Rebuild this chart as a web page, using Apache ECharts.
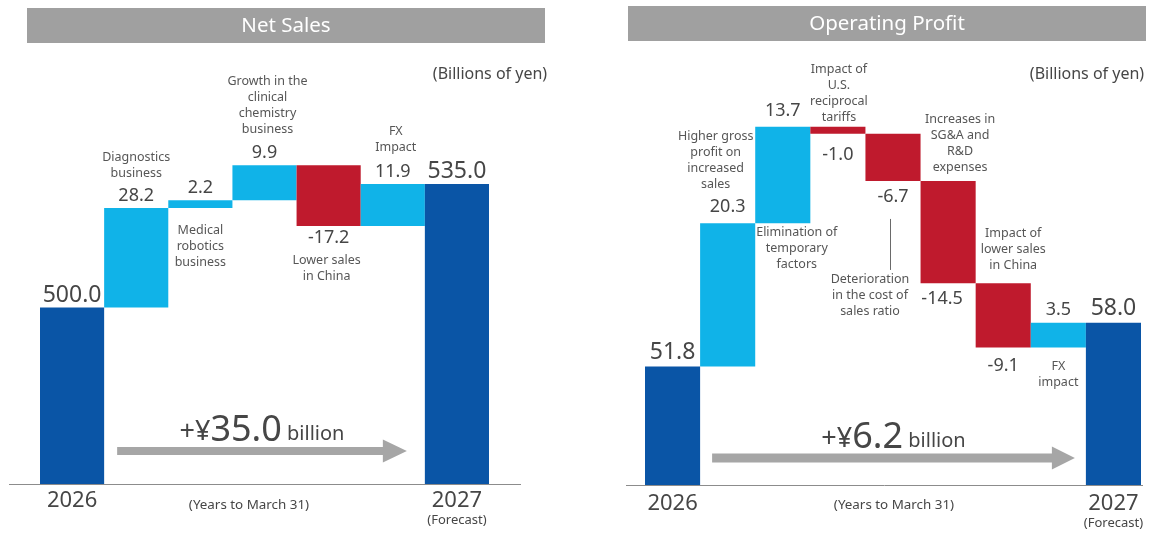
<!DOCTYPE html>
<html>
<head>
<meta charset="utf-8">
<title>Net Sales / Operating Profit bridge</title>
<script src="https://cdn.jsdelivr.net/npm/echarts@6/dist/echarts.min.js"></script>
<style>
  html, body { margin: 0; padding: 0; background: #ffffff; }
  #chart { width: 1150px; height: 535px; }
</style>
</head>
<body>
<div id="chart"></div>
<script>
// Net sales bridge, billions of yen
const salesYears = ['2026', '2027'];
const salesStart = 500.0;
const salesEnd = 535.0;
const salesFactors = [
  'Diagnostics\nbusiness',
  'Medical\nrobotics\nbusiness',
  'Growth in the\nclinical\nchemistry\nbusiness',
  'Lower sales\nin China',
  'FX\nImpact'
];
const salesDeltas = [28.2, 2.2, 9.9, -17.2, 11.9];

// Operating profit bridge, billions of yen
const profitYears = ['2026', '2027'];
const profitStart = 51.8;
const profitEnd = 58.0;
const profitFactors = [
  'Higher gross\nprofit on\nincreased\nsales',
  'Elimination of\ntemporary\nfactors',
  'Impact of\nU.S.\nreciprocal\ntariffs',
  'Deterioration\nin the cost of\nsales ratio',
  'Increases in\nSG&A and\nR&D\nexpenses',
  'Impact of\nlower sales\nin China',
  'FX\nimpact'
];
const profitDeltas = [20.3, 13.7, -1.0, -6.7, -14.5, -9.1, 3.5];

const FONT = '"Noto Sans", sans-serif';
const DARK = '#0a55a6';
const LIGHT = '#10b3e8';
const RED = '#bf1a2d';
const TEXT = '#464646';
const NOTE = '#565656';
const HEADER = '#a0a0a0';
const ARROW = '#a6a6a6';

// Layout of each panel (pixels); notes are anchored to the top or bottom edge of their bar
const panels = [
  {
    title: 'Net Sales', years: salesYears, start: salesStart, end: salesEnd,
    factors: salesFactors, deltas: salesDeltas,
    yMin: 450, yMax: 550,
    grid: { left: 40, top: 131, width: 449, height: 353 },
    header: { x: 27, y: 8, w: 518, h: 35 },
    units: { x: 490, y: 74 },
    yearsNote: { x: 249, y: 505 },
    overhang: [31, 32],
    valueSize: [18, 23], valueGap: [3, 1],
    gapFor: {}, offsetFor: {},
    yearMargin: 5,
    arrow: { startGap: 13, endGap: 18, rise: 33, shaft: 8, head: 23, headLen: 24 },
    changeRise: 56,
    notes: [
      { edge: 'top', dx: 0, dy: -27 },
      { edge: 'bottom', dx: 0, dy: 14 },
      { edge: 'top', dx: 3, dy: -28 },
      { edge: 'bottom', dx: -2, dy: 26 },
      { edge: 'top', dx: 3, dy: -29 }
    ]
  },
  {
    title: 'Operating Profit', years: profitYears, start: profitStart, end: profitEnd,
    factors: profitFactors, deltas: profitDeltas,
    yMin: 35, yMax: 90,
    grid: { left: 645, top: 97, width: 496, height: 388 },
    header: { x: 628, y: 6, w: 518, h: 35 },
    units: { x: 1087, y: 74 },
    yearsNote: { x: 894, y: 505 },
    overhang: [19, 2],
    valueSize: [18, 23], valueGap: [7, 3],
    gapFor: { 3: 12, 5: 7, 6: 9, 7: 4 }, offsetFor: { 5: [-6, 0] },
    yearMargin: 7,
    arrow: { startGap: 12, endGap: 11, rise: 27, shaft: 9, head: 23, headLen: 23 },
    changeRise: 50,
    notes: [
      { edge: 'top', dx: -12, dy: -31 },
      { edge: 'bottom', dx: 14, dy: 1 },
      { edge: 'top', dx: 1, dy: -1 },
      { edge: 'bottom', dx: -23, dy: 90, leader: [38, 89, -3] },
      { edge: 'top', dx: 12, dy: -6 },
      { edge: 'top', dx: 10, dy: -10 },
      { edge: 'bottom', dx: 0, dy: 11 }
    ]
  }
];

const fmt = v => v.toFixed(1);

// Lower edge, height, colour and label of every bar in a bridge
function buildBridge(p) {
  const n = p.deltas.length + 2;
  const lows = [], spans = [], colors = [], texts = [], ups = [], tops = [], bottoms = [];
  lows.push(p.yMin); spans.push(p.start - p.yMin); colors.push(DARK); texts.push(fmt(p.start)); ups.push(true);
  tops.push(p.start); bottoms.push(p.yMin);
  let level = p.start;
  p.deltas.forEach(d => {
    const next = level + d;
    const lo = Math.min(level, next), hi = Math.max(level, next);
    lows.push(lo); spans.push(hi - lo);
    colors.push(d >= 0 ? LIGHT : RED);
    texts.push(fmt(d)); ups.push(d >= 0);
    tops.push(hi); bottoms.push(lo);
    level = next;
  });
  lows.push(p.yMin); spans.push(p.end - p.yMin); colors.push(DARK); texts.push(fmt(p.end)); ups.push(true);
  tops.push(p.end); bottoms.push(p.yMin);
  return { n, lows, spans, colors, texts, ups, tops, bottoms };
}

const bridges = panels.map(buildBridge);

const grids = [], xAxes = [], yAxes = [], series = [];
panels.forEach((p, k) => {
  const b = bridges[k];
  grids.push(Object.assign({}, p.grid));
  const cats = [p.years[0]].concat(p.factors.map(f => f.replace(/\n/g, ' ')), [p.years[1]]);
  xAxes.push({
    type: 'category', gridIndex: k, data: cats,
    axisLine: { show: false }, axisTick: { show: false },
    axisLabel: {
      interval: 0, margin: p.yearMargin,
      formatter: (v, i) => i === 0 ? '{y|' + v + '}' : (i === cats.length - 1 ? '{y|' + v + '}\n{f|(Forecast)}' : ''),
      rich: {
        y: { fontFamily: FONT, fontSize: 22, lineHeight: 23, color: TEXT },
        f: { fontFamily: FONT, fontSize: 13, lineHeight: 16, color: TEXT }
      }
    }
  });
  yAxes.push({ type: 'value', gridIndex: k, min: p.yMin, max: p.yMax, show: false, splitLine: { show: false } });
  series.push({
    type: 'bar', xAxisIndex: k, yAxisIndex: k, stack: 'bridge' + k, silent: true,
    barCategoryGap: '0%',
    itemStyle: { color: 'rgba(0,0,0,0)' },
    data: b.lows
  });
  series.push({
    type: 'bar', xAxisIndex: k, yAxisIndex: k, stack: 'bridge' + k,
    barCategoryGap: '0%',
    label: {
      show: true, fontFamily: FONT, color: TEXT,
      formatter: prm => b.texts[prm.dataIndex]
    },
    data: b.spans.map((s, i) => {
      const end = i === 0 || i === b.n - 1;
      const gap = p.gapFor[i] !== undefined ? p.gapFor[i] : (end ? p.valueGap[1] : p.valueGap[0]);
      return {
        value: s,
        itemStyle: { color: b.colors[i] },
        label: {
          position: b.ups[i] ? 'top' : 'bottom',
          distance: gap,
          fontSize: end ? p.valueSize[1] : p.valueSize[0],
          offset: p.offsetFor[i] || [0, 0]
        }
      };
    })
  });
});

const chart = echarts.init(document.getElementById('chart'));
chart.setOption({
  animation: false,
  backgroundColor: '#ffffff',
  grid: grids, xAxis: xAxes, yAxis: yAxes, series: series
});

// Headers, notes, baselines and change arrows, placed through each panel's axes
const graphics = [];
panels.forEach((p, k) => {
  const b = bridges[k];
  const at = (i, v) => chart.convertToPixel({ xAxisIndex: k, yAxisIndex: k }, [i, v]);
  const band = at(1, p.yMin)[0] - at(0, p.yMin)[0];
  const baseY = at(0, p.yMin)[1];

  graphics.push({
    type: 'rect', shape: { x: p.header.x, y: p.header.y, width: p.header.w, height: p.header.h },
    style: { fill: HEADER }
  });
  graphics.push({
    type: 'text', x: p.header.x + p.header.w / 2, y: p.header.y + p.header.h / 2 + 1,
    style: { text: p.title, fill: '#ffffff', font: '20.5px ' + FONT, textAlign: 'center', textVerticalAlign: 'middle' }
  });
  graphics.push({
    type: 'text', x: p.units.x, y: p.units.y,
    style: { text: '(Billions of yen)', fill: TEXT, font: '16px ' + FONT, textAlign: 'center', textVerticalAlign: 'middle' }
  });
  graphics.push({
    type: 'text', x: p.yearsNote.x, y: p.yearsNote.y,
    style: { text: '(Years to March 31)', fill: TEXT, font: '13.4px ' + FONT, textAlign: 'center', textVerticalAlign: 'middle' }
  });

  // baseline
  graphics.push({
    type: 'line',
    shape: { x1: p.grid.left - p.overhang[0], y1: baseY + 0.5, x2: p.grid.left + p.grid.width + p.overhang[1], y2: baseY + 0.5 },
    style: { stroke: '#8c8c8c', lineWidth: 1 }
  });

  // factor notes
  p.notes.forEach((nt, j) => {
    const i = j + 1;
    const edgeVal = nt.edge === 'top' ? b.tops[i] : b.bottoms[i];
    const pt = at(i, edgeVal);
    graphics.push({
      type: 'text', x: pt[0] + nt.dx, y: pt[1] + nt.dy,
      style: {
        text: p.factors[j], fill: NOTE, font: '12.5px ' + FONT, lineHeight: 16,
        textAlign: 'center', textVerticalAlign: nt.dy < 0 ? 'bottom' : 'top'
      }
    });
    if (nt.leader) {
      graphics.push({
        type: 'line',
        shape: { x1: pt[0] + nt.leader[2] + 0.5, y1: pt[1] + nt.leader[0], x2: pt[0] + nt.leader[2] + 0.5, y2: pt[1] + nt.leader[1] },
        style: { stroke: '#6a6a6a', lineWidth: 1 }
      });
    }
  });

  // change arrow between the two year bars
  const a = p.arrow;
  const x0 = at(0, p.yMin)[0] + band / 2 + a.startGap;
  const xt = at(b.n - 1, p.yMin)[0] - band / 2 - a.endGap;
  const xb = xt - a.headLen;
  const cy = baseY - a.rise;
  graphics.push({
    type: 'polygon',
    shape: {
      points: [
        [x0, cy - a.shaft / 2], [xb, cy - a.shaft / 2], [xb, cy - a.head / 2], [xt, cy],
        [xb, cy + a.head / 2], [xb, cy + a.shaft / 2], [x0, cy + a.shaft / 2]
      ]
    },
    style: { fill: ARROW }
  });
  const change = p.end - p.start;
  graphics.push({
    type: 'text', x: (x0 + xt) / 2, y: baseY - p.changeRise,
    style: {
      text: '{s|' + (change >= 0 ? '+' : '-') + '¥}{n|' + fmt(Math.abs(change)) + '}{u| billion}',
      textAlign: 'center', textVerticalAlign: 'middle',
      rich: {
        s: { font: '27px ' + FONT, fill: TEXT, verticalAlign: 'bottom', lineHeight: 42, padding: [0, 0, 3, 0] },
        n: { font: '36px ' + FONT, fill: TEXT, verticalAlign: 'bottom', lineHeight: 42 },
        u: { font: '20px ' + FONT, fill: TEXT, verticalAlign: 'bottom', lineHeight: 42, padding: [0, 0, 5, 0] }
      }
    }
  });
});

chart.setOption({ graphic: graphics });
</script>
</body>
</html>
